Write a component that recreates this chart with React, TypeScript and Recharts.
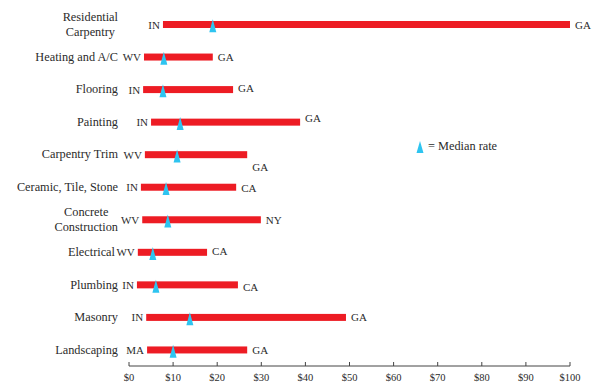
import React from 'react';
import { ComposedChart, Bar, Line, XAxis, YAxis } from 'recharts';

const CATEGORIES = [
  'Residential\nCarpentry',
  'Heating and A/C',
  'Flooring',
  'Painting',
  'Carpentry Trim',
  'Ceramic, Tile, Stone',
  'Concrete\nConstruction',
  'Electrical',
  'Plumbing',
  'Masonry',
  'Landscaping',
];
const LOW = [7.7, 3.4, 3.2, 5.0, 3.6, 2.7, 3.0, 2.0, 1.8, 3.9, 4.1];
const HIGH = [100, 19.0, 23.6, 38.8, 26.8, 24.3, 29.9, 17.7, 24.7, 49.2, 26.8];
const MEDIAN = [19.0, 7.9, 7.7, 11.6, 10.9, 8.4, 8.8, 5.4, 6.1, 13.8, 10.0];
const LOW_STATE = ['IN', 'WV', 'IN', 'IN', 'WV', 'IN', 'WV', 'WV', 'IN', 'IN', 'MA'];
const HIGH_STATE = ['GA', 'GA', 'GA', 'GA', 'GA', 'CA', 'NY', 'CA', 'CA', 'GA', 'GA'];
const X_TICKS = [0, 10, 20, 30, 40, 50, 60, 70, 80, 90, 100];

// small nudges for labels, as in the original
const HIGH_LABEL_DY = [0, 0, -2, -4, 12, 1, 0, -1, 2, 0, 0];
const CATEGORY_DX = [0, 0, 0, 0, 0, 0, 0, -3, 0, 0, 0];

const FONT = '"Liberation Serif", "Times New Roman", serif';
const TEXT = '#2b2b2b';
const RED = '#ed1c24';
const CYAN = '#2ec4f0';

const data = CATEGORIES.map((name, i) => ({
  name,
  range: [LOW[i], HIGH[i]],
  median: MEDIAN[i],
}));

let ctx: CanvasRenderingContext2D | null = null;
const measure = (s: string, size: number) => {
  if (!ctx) ctx = document.createElement('canvas').getContext('2d');
  if (!ctx) return s.length * size * 0.5;
  ctx.font = `${size}px ${FONT}`;
  return ctx.measureText(s).width;
};

const CategoryTick = (props: any) => {
  const { x, y, payload, index } = props;
  const lines: string[] = String(payload.value).split('\n');
  const right = x - 11 + (CATEGORY_DX[index] || 0);
  if (lines.length === 1) {
    return (
      <text x={right} y={y + 4} textAnchor="end" fontSize={12.3} fill={TEXT} fontFamily={FONT}>
        {lines[0]}
      </text>
    );
  }
  const maxW = Math.max(...lines.map(l => measure(l, 12.3)));
  const cx = right - maxW / 2;
  return (
    <text textAnchor="middle" fontSize={12.3} fill={TEXT} fontFamily={FONT}>
      {lines.map((l, i) => (
        <tspan key={i} x={cx} y={y - 7.5 + 4 + i * 15}>{l}</tspan>
      ))}
    </text>
  );
};

const ValueTick = (props: any) => {
  const { x, y, payload } = props;
  return (
    <g>
      <line x1={x} x2={x} y1={y} y2={y - 4} stroke="#444" strokeWidth={1} />
      <text x={x} y={y + 15} textAnchor="middle" fontSize={10.5} fill={TEXT} fontFamily={FONT}>
        ${payload.value}
      </text>
    </g>
  );
};

const RangeBar = (props: any) => {
  const { x, y, width, height, index } = props;
  const cy = y + height / 2;
  return (
    <g>
      <rect x={x} y={y} width={width} height={height} fill={RED} />
      <text x={x - 3} y={cy + 4} textAnchor="end" fontSize={11} fill={TEXT} fontFamily={FONT}>
        {LOW_STATE[index]}
      </text>
      <text
        x={x + width + 5}
        y={cy + 4 + HIGH_LABEL_DY[index]}
        textAnchor="start"
        fontSize={11}
        fill={TEXT}
        fontFamily={FONT}
      >
        {HIGH_STATE[index]}
      </text>
    </g>
  );
};

const MedianMark = (props: any) => {
  const { cx, cy } = props;
  if (cx == null || cy == null) return null;
  return (
    <path
      d={`M${cx},${cy - 5} L${cx + 3.5},${cy + 8} L${cx - 3.5},${cy + 8} Z`}
      fill={CYAN}
    />
  );
};

export default function App() {
  return (
    <div style={{ position: 'relative', width: 593, height: 386, padding: '8px 0 0 8px', boxSizing: 'border-box' }}>
      <style>{'body { margin: 0; } .recharts-surface, .recharts-wrapper { overflow: visible !important; }'}</style>
      <ComposedChart
        width={585}
        height={378}
        data={data}
        layout="vertical"
        margin={{ top: 0, right: 23, bottom: 0, left: 0 }}
        style={{ overflow: 'visible' }}
      >
        <XAxis
          type="number"
          domain={[0, 100]}
          ticks={X_TICKS}
          interval={0}
          height={20}
          tickSize={0}
          tickMargin={0}
          tickLine={false}
          axisLine={{ stroke: '#444', strokeWidth: 1 }}
          tick={<ValueTick />}
        />
        <YAxis
          type="category"
          dataKey="name"
          width={121}
          axisLine={false}
          tickLine={false}
          tickSize={0}
          tickMargin={0}
          interval={0}
          tick={<CategoryTick />}
        />
        <Bar dataKey="range" barSize={7} shape={<RangeBar />} isAnimationActive={false} />
        <Line
          dataKey="median"
          stroke="none"
          dot={<MedianMark />}
          activeDot={false}
          legendType="none"
          isAnimationActive={false}
        />
      </ComposedChart>
      <div
        style={{
          position: 'absolute',
          left: 416,
          top: 139,
          display: 'flex',
          alignItems: 'center',
          fontFamily: FONT,
          fontSize: 12.3,
          color: TEXT,
          whiteSpace: 'nowrap',
        }}
      >
        <svg width={8} height={14} style={{ marginRight: 4 }}>
          <path d="M4,1 L7.5,13 L0.5,13 Z" fill={CYAN} />
        </svg>
        <span>= Median rate</span>
      </div>
    </div>
  );
}
